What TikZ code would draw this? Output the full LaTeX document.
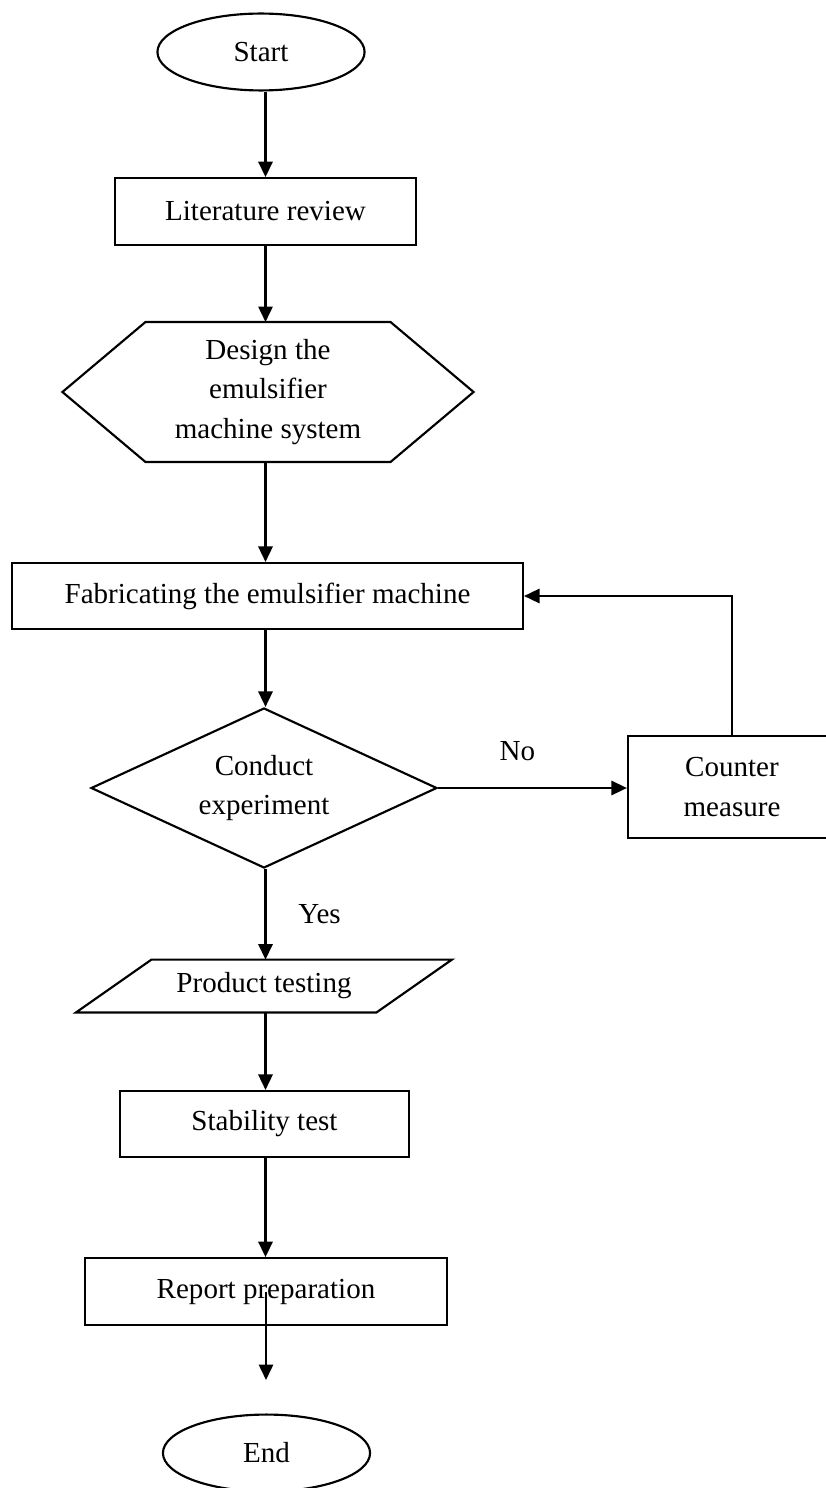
\documentclass[tikz,border=0pt]{standalone}
\usepackage{fontspec}
\setmainfont{Liberation Serif}
\usetikzlibrary{shapes.geometric,arrows.meta}

\begin{document}
\begin{tikzpicture}[x=0.42pt,y=-0.42pt,
    every node/.style={font=\fontsize{12.2}{16.5}\selectfont, align=center, inner sep=0pt},
    box/.style={draw, line width=0.9pt, minimum width=#1, minimum height=28pt},
    term/.style={draw, ellipse, line width=0.9pt, minimum width=87pt, minimum height=32.3pt},
    arr/.style={-{Triangle[width=6pt,length=6.5pt]}, line width=0.9pt}]
  \clip (0,0) rectangle (826,1488);

  % main column
  \node (start) [term] at (261,52) {Start};
  \node (lit) [box=126.4pt] at (265.5,211.5) {Literature review};
  \node (design) [minimum width=102.5pt, minimum height=58.4pt] at (268,392)
    {Design the\\emulsifier\\machine system};
  \draw[line width=0.9pt] (design.north west) -- (design.north east)
    -- ([xshift=34.9pt]design.east) -- (design.south east)
    -- (design.south west) -- ([xshift=-34.9pt]design.west) -- cycle;
  \node (fab) [box=214.6pt, minimum height=27.7pt] at (267.5,596)
    {Fabricating the emulsifier machine};
  \node (decide) [draw, diamond, aspect=2.16, line width=0.9pt, minimum width=145.3pt,
    minimum height=67.2pt] at (264,788) {Conduct\\experiment};
  \node (counter) [box=87.4pt, minimum height=42.8pt] at (732,787) {Counter\\measure};
  \node (prod) [minimum width=94.1pt, minimum height=21.8pt] at (264,986) {Product testing};
  \draw[line width=0.9pt] (prod.north west) -- ([xshift=31.7pt]prod.north east)
    -- (prod.south east) -- ([xshift=-31.7pt]prod.south west) -- cycle;
  \node (stab) [box=121.4pt, minimum height=27.7pt] at (264.5,1124) {Stability test};
  \node (report) [box=152pt] at (266,1291.5) {Report preparation};
  \node (end) [term] at (266.5,1453) {End};
  \coordinate (endtip) at (266,1380);

  % connectors
  \draw[arr] (start.south -| lit.north) -- (lit.north);
  \draw[arr] (lit.south) -- (lit.south |- design.north);
  \draw[arr] (lit.south |- design.south) -- (lit.south |- fab.north);
  \draw[arr] (lit.south |- fab.south) -- (lit.south |- decide.north);
  \draw[arr] (decide.east) -- node[pos=0.42, above=11pt] {No} (decide.east -| counter.west);
  \draw[arr] (counter.north) |- (fab.east);
  \draw[arr] (lit.south |- decide.south) -- node[right=13.4pt] {Yes} (lit.south |- prod.north);
  \draw[arr] (lit.south |- prod.south) -- (lit.south |- stab.north);
  \draw[arr] (lit.south |- stab.south) -- (lit.south |- report.north);
  \draw[arr] (report.center) -- (endtip);
\end{tikzpicture}
\end{document}
